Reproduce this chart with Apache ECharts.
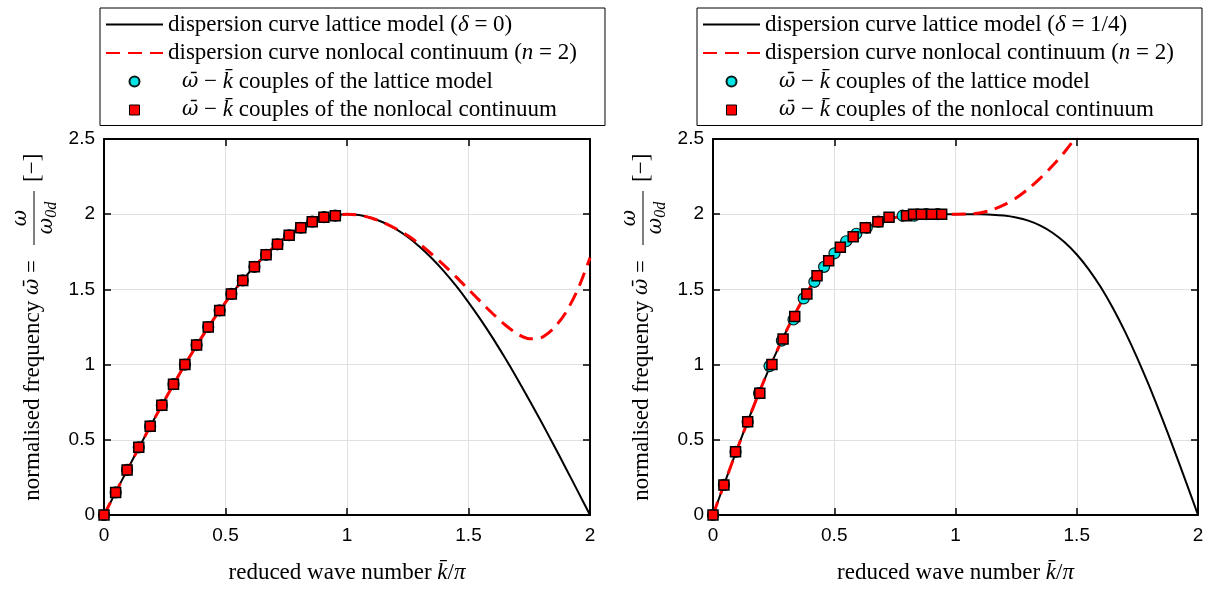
<!DOCTYPE html>
<html><head><meta charset="utf-8">
<script src="https://cdn.jsdelivr.net/npm/echarts@6/dist/echarts.min.js"></script>
<style>html,body{margin:0;padding:0;background:#fff}#c{width:1210px;height:589px}</style>
</head><body><div id="c"></div>
<script>
// ---------- data ----------
const kCurve = [0,0.05,0.1,0.15,0.2,0.25,0.3,0.35,0.4,0.45,0.5,0.55,0.6,0.65,0.7,0.75,0.8,0.85,0.9,0.95,1.0,
  1.05,1.1,1.15,1.2,1.25,1.3,1.35,1.4,1.45,1.5,1.55,1.6,1.65,1.7,1.75,1.8,1.85,1.9,1.95,2.0];

// left panel (delta = 0)
const latticeLeft = [0,0.157,0.313,0.467,0.618,0.765,0.908,1.045,1.176,1.299,1.414,1.521,1.618,1.705,1.782,1.848,1.902,1.945,1.975,1.994,2.000,
  1.994,1.975,1.945,1.902,1.848,1.782,1.705,1.618,1.521,1.414,1.299,1.176,1.045,0.908,0.765,0.618,0.467,0.313,0.157,0];
const nonlocalLeft = [0,0.157,0.313,0.467,0.618,0.765,0.908,1.045,1.176,1.299,1.414,1.521,1.618,1.705,1.782,1.848,1.902,1.945,1.975,1.994,2.000,
  1.994,1.975,1.945,1.905,1.858,1.800,1.733,1.660,1.582,1.500,1.418,1.338,1.265,1.205,1.172,1.180,1.240,1.345,1.500,1.710];
const kPtsLeft = [0,0.048,0.095,0.143,0.190,0.238,0.286,0.333,0.381,0.429,0.476,0.524,0.571,0.619,0.667,0.714,0.762,0.810,0.857,0.905,0.952];
const wLatPtsLeft = [0,0.15,0.30,0.45,0.59,0.73,0.87,1.00,1.13,1.25,1.36,1.47,1.56,1.65,1.73,1.80,1.86,1.91,1.95,1.98,1.99];
const wNlPtsLeft  = [0,0.15,0.30,0.45,0.59,0.73,0.87,1.00,1.13,1.25,1.36,1.47,1.56,1.65,1.73,1.80,1.86,1.91,1.95,1.98,1.99];

// right panel (delta = 1/4)
const latticeRight = [0,0.222,0.440,0.651,0.853,1.042,1.216,1.373,1.512,1.632,1.732,1.813,1.877,1.924,1.957,1.978,1.991,1.997,1.999,2.000,2.000,
  2.000,1.999,1.997,1.991,1.978,1.957,1.924,1.877,1.813,1.732,1.632,1.512,1.373,1.216,1.042,0.853,0.651,0.440,0.222,0];
const nonlocalRight = [0,0.222,0.440,0.651,0.853,1.042,1.216,1.373,1.512,1.632,1.732,1.813,1.877,1.924,1.957,1.978,1.991,1.997,1.999,2.000,2.000,
  2.001,2.008,2.028,2.062,2.108,2.168,2.240,2.322,2.414,2.518];
const kLatPtsRight = [0,0.045,0.093,0.143,0.190,0.233,0.284,0.332,0.374,0.418,0.458,0.501,0.549,0.591,0.634,0.682,0.782,0.830,0.879,0.927];
const wLatPtsRight = [0,0.20,0.42,0.62,0.81,0.99,1.16,1.30,1.44,1.55,1.65,1.74,1.82,1.87,1.91,1.95,1.99,1.99,2.00,2.00];
const kNlPtsRight = [0,0.045,0.093,0.143,0.193,0.243,0.289,0.337,0.387,0.429,0.477,0.525,0.578,0.628,0.680,0.726,0.798,0.827,0.859,0.902,0.943];
const wNlPtsRight = [0,0.20,0.42,0.62,0.81,1.00,1.17,1.32,1.47,1.59,1.69,1.78,1.85,1.91,1.95,1.98,1.99,2.00,2.00,2.00,2.00];

const xTickLabels = ['0','0.5','1','1.5','2'];
const yTickLabels = ['0','0.5','1','1.5','2','2.5'];

const nameLatL = 'dispersion curve lattice model (δ = 0)';
const nameLatR = 'dispersion curve lattice model (δ = 1/4)';
const nameNl = 'dispersion curve nonlocal continuum (n = 2)';
const nameCLat = 'ω̄ − k̄ couples of the lattice model';
const nameCNl = 'ω̄ − k̄ couples of the nonlocal continuum';

// ---------- styling ----------
const SERIF = 'Liberation Serif';
const SANS = 'Liberation Sans';
const GREEK = 'DejaVu Serif';
const FSZ = 23;
const pairs = (xs, ys) => ys.map((y, i) => [xs[i], y]);

const richStyles = {
  i: {fontFamily: SERIF, fontStyle: 'italic', fontSize: FSZ, color: '#000', lineHeight: 22},
  w: {fontFamily: GREEK, fontStyle: 'italic', fontSize: FSZ - 3, color: '#000', lineHeight: 22},
  sp: {width: 14, fontSize: FSZ, lineHeight: 22}
};
const legendFmt = {};
legendFmt[nameLatL] = 'dispersion curve lattice model ({i|δ} = 0)';
legendFmt[nameLatR] = 'dispersion curve lattice model ({i|δ} = 1/4)';
legendFmt[nameNl] = 'dispersion curve nonlocal continuum ({i|n} = 2)';
legendFmt[nameCLat] = '{sp| }{w|ω̄} − {i|k̄} couples of the lattice model';
legendFmt[nameCNl] = '{sp| }{w|ω̄} − {i|k̄} couples of the nonlocal continuum';

function xAxes(gi) {
  return [{
    gridIndex: gi, type: 'value', min: 0, max: 2, interval: 0.5, position: 'bottom',
    axisLine: {show: true, onZero: false, lineStyle: {color: '#000', width: 2}},
    axisTick: {show: true, inside: true, length: 7, lineStyle: {color: '#000', width: 1.5}},
    axisLabel: {color: '#000', fontFamily: SANS, fontSize: 19, margin: 11,
      formatter: (v) => xTickLabels[Math.round(v / 0.5)]},
    splitLine: {show: true, lineStyle: {color: '#e0e0e0', width: 1}},
    name: 'reduced wave number {i|k̄}/{i|π}', nameLocation: 'middle', nameGap: 46,
    nameTextStyle: {fontFamily: SERIF, fontSize: FSZ, color: '#000', rich: richStyles}
  }, {
    gridIndex: gi, type: 'value', min: 0, max: 2, interval: 0.5, position: 'top',
    axisLine: {show: true, onZero: false, lineStyle: {color: '#000', width: 2}},
    axisTick: {show: true, inside: true, length: 7, lineStyle: {color: '#000', width: 1.5}},
    axisLabel: {show: false}, splitLine: {show: false}
  }];
}
function yAxes(gi) {
  return [{
    gridIndex: gi, type: 'value', min: 0, max: 2.5, interval: 0.5, position: 'left',
    axisLine: {show: true, onZero: false, lineStyle: {color: '#000', width: 2}},
    axisTick: {show: true, inside: true, length: 7, lineStyle: {color: '#000', width: 1.5}},
    axisLabel: {color: '#000', fontFamily: SANS, fontSize: 19, margin: 9,
      formatter: (v) => yTickLabels[Math.round(v / 0.5)]},
    splitLine: {show: true, lineStyle: {color: '#e0e0e0', width: 1}}
  }, {
    gridIndex: gi, type: 'value', min: 0, max: 2.5, interval: 0.5, position: 'right',
    axisLine: {show: true, onZero: false, lineStyle: {color: '#000', width: 2}},
    axisTick: {show: true, inside: true, length: 7, lineStyle: {color: '#000', width: 1.5}},
    axisLabel: {show: false}, splitLine: {show: false}
  }];
}
function panelSeries(gi, latName, latVals, nlVals, kLat, wLat, kNl, wNl) {
  const xi = gi * 2, yi = gi * 2;
  return [
    {type: 'line', name: latName, xAxisIndex: xi, yAxisIndex: yi, symbol: 'none', smooth: 0.25,
      data: pairs(kCurve, latVals), lineStyle: {color: '#000', width: 2}, itemStyle: {color: '#000'}, z: 2},
    {type: 'line', name: nameNl, xAxisIndex: xi, yAxisIndex: yi, symbol: 'none', smooth: 0.25,
      data: pairs(kCurve, nlVals), lineStyle: {color: '#ff0000', width: 3, type: [14, 8]}, itemStyle: {color: '#ff0000'}, z: 3},
    {type: 'scatter', name: nameCLat, xAxisIndex: xi, yAxisIndex: yi, symbol: 'circle', symbolSize: 11,
      data: pairs(kLat, wLat), itemStyle: {color: '#00e6e6', borderColor: '#0a1a1a', borderWidth: 1.2, opacity: 1}, z: 4},
    {type: 'scatter', name: nameCNl, xAxisIndex: xi, yAxisIndex: yi, symbol: 'rect', symbolSize: 10,
      data: pairs(kNl, wNl), itemStyle: {color: '#ff0000', borderColor: '#000', borderWidth: 1.5, opacity: 1}, z: 5}
  ];
}
function legendFor(names, left) {
  return {
    data: [
      {name: names[0], itemStyle: {opacity: 0}},
      {name: names[1], itemStyle: {opacity: 0}},
      {name: names[2]},
      {name: names[3], icon: 'path://M0,0L10,0L10,10L0,10Z', itemStyle: {borderWidth: 1}}
    ],
    left: left, top: 8, orient: 'vertical', selectedMode: false, symbolKeepAspect: true,
    borderColor: '#000', borderWidth: 1, padding: [5, 28, 4, 5], itemGap: 5.5,
    itemWidth: 57, itemHeight: 10, backgroundColor: '#fff',
    textStyle: {fontFamily: SERIF, fontSize: FSZ, color: '#000', lineHeight: 22, rich: richStyles},
    formatter: (n) => legendFmt[n]
  };
}
function yLabel(ox) {
  const base = {fontFamily: SERIF, fontSize: FSZ, fill: '#000'};
  const wStyle = {fontFamily: GREEK, fontStyle: 'italic', fontSize: FSZ - 3, fill: '#000'};
  return {
    type: 'group', x: ox, y: 518, rotation: Math.PI / 2, silent: true,
    children: [
      {type: 'text', x: 258, y: 0, style: Object.assign({}, base, {
        text: 'normalised frequency {w|ω̄} =', align: 'right', verticalAlign: 'middle',
        rich: {w: wStyle}})},
      {type: 'text', x: 300, y: -12, style: Object.assign({}, wStyle, {
        text: 'ω', align: 'center', verticalAlign: 'middle'})},
      {type: 'line', shape: {x1: 273, y1: 1, x2: 327, y2: 1}, style: {stroke: '#000', lineWidth: 1}},
      {type: 'text', x: 300, y: 14, style: Object.assign({}, base, {
        text: '{w|ω}{s|0d}', align: 'center', verticalAlign: 'middle',
        rich: {w: wStyle,
               s: {fontFamily: SERIF, fontStyle: 'italic', fontSize: 16, fill: '#000', padding: [10, 0, 0, 0]}}})},
      {type: 'text', x: 336, y: 0, style: Object.assign({}, base, {
        text: '[−]', align: 'left', verticalAlign: 'middle'})}
    ]
  };
}

const option = {
  backgroundColor: '#fff',
  animation: false,
  grid: [
    {left: 104, top: 139, width: 486, height: 381},
    {left: 713, top: 139, width: 485, height: 381}
  ],
  xAxis: xAxes(0).concat(xAxes(1)),
  yAxis: yAxes(0).concat(yAxes(1)),
  legend: [
    legendFor([nameLatL, nameNl, nameCLat, nameCNl], 100),
    legendFor([nameLatR, nameNl, nameCLat, nameCNl], 697)
  ],
  graphic: [yLabel(33), yLabel(642)],
  series: panelSeries(0, nameLatL, latticeLeft, nonlocalLeft, kPtsLeft, wLatPtsLeft, kPtsLeft, wNlPtsLeft)
    .concat(panelSeries(1, nameLatR, latticeRight, nonlocalRight, kLatPtsRight, wLatPtsRight, kNlPtsRight, wNlPtsRight))
};
const chart = echarts.init(document.getElementById('c'));
chart.setOption(option);
</script></body></html>
